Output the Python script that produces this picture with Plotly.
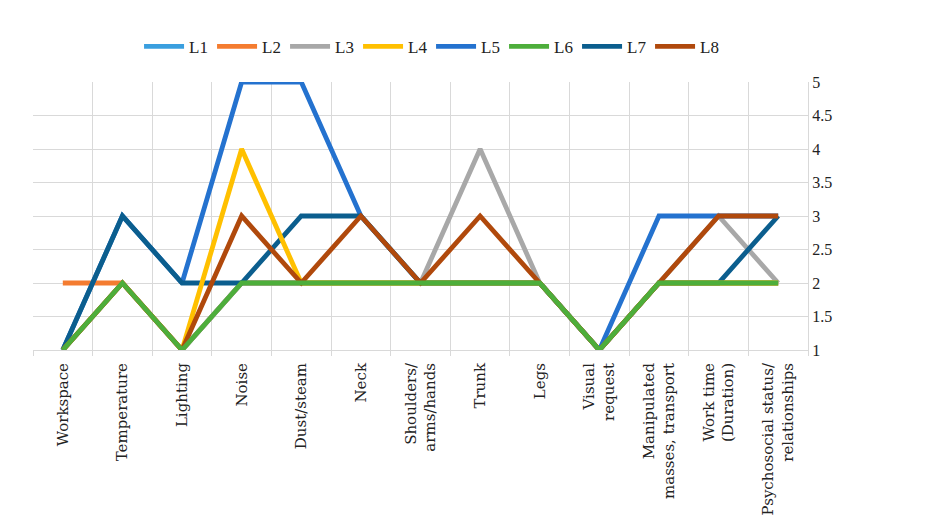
import plotly.graph_objects as go

categories = ["Workspace", "Temperature", "Lighting", "Noise", "Dust/steam", "Neck",
              "Shoulders/<br>arms/hands", "Trunk", "Legs", "Visual<br>request",
              "Manipulated<br>masses, transport", "Work time<br>(Duration)",
              "Psychosocial status/<br>relationships"]

L1 = [1, 2, 1, 2, 2, 2, 2, 2, 2, 1, 2, 2, 2]
L2 = [2, 2, 1, 2, 2, 2, 2, 2, 2, 1, 2, 2, 2]
L3 = [1, 2, 1, 2, 2, 2, 2, 4, 2, 1, 2, 3, 2]
L4 = [1, 2, 1, 4, 2, 2, 2, 2, 2, 1, 2, 2, 2]
L5 = [1, 3, 2, 5, 5, 3, 2, 2, 2, 1, 3, 3, 3]
L6 = [1, 2, 1, 2, 2, 2, 2, 2, 2, 1, 2, 2, 2]
L7 = [1, 3, 2, 2, 3, 3, 2, 2, 2, 1, 2, 2, 3]
L8 = [1, 2, 1, 3, 2, 3, 2, 3, 2, 1, 2, 3, 3]

y_ticks = [1, 1.5, 2, 2.5, 3, 3.5, 4, 4.5, 5]

series = {"L1": L1, "L2": L2, "L3": L3, "L4": L4, "L5": L5, "L6": L6, "L7": L7, "L8": L8}
colors = {"L1": "#3A9FDF", "L2": "#F47C30", "L3": "#A8A8A8", "L4": "#FFC000",
          "L5": "#2472CF", "L6": "#4DAE3B", "L7": "#0B5E8E", "L8": "#B0490C"}
rank = {"L1": 1, "L2": 2, "L3": 3, "L4": 4, "L5": 5, "L6": 6, "L7": 7, "L8": 8}
draw_order = ["L1", "L2", "L3", "L5", "L7", "L4", "L8", "L6"]

fig = go.Figure()
for name in draw_order:
    fig.add_trace(go.Scatter(
        x=categories, y=series[name], mode="lines", name=name,
        line=dict(color=colors[name], width=4.8), cliponaxis=False,
        legendrank=rank[name],
    ))

font_family = "'Liberation Serif', 'Times New Roman', serif"
x_font = "'DejaVu Serif', serif"
fig.update_layout(
    width=931, height=526,
    margin=dict(l=33, r=123, t=82, b=176, autoexpand=False),
    paper_bgcolor="white", plot_bgcolor="white",
    font=dict(family=font_family, size=16, color="#222222"),
    showlegend=True,
    legend=dict(orientation="h", x=0.463, xanchor="center", xref="container",
                y=0.911, yanchor="middle", yref="container",
                font=dict(size=17, family=font_family), itemwidth=40,
                entrywidth=18, traceorder="normal"),
)
fig.update_xaxes(
    type="category", categoryorder="array", categoryarray=categories,
    range=[-0.5, 12.5], tickson="boundaries", tickangle=-90,
    showgrid=True, gridcolor="#D9D9D9", gridwidth=1,
    showline=True, linecolor="#D9D9D9", linewidth=1,
    ticks="outside", ticklen=5, tickcolor="#D9D9D9",
    ticklabelstandoff=6, automargin=False,
    tickfont=dict(size=15, family=x_font, color="#222222"),
    zeroline=False,
)
fig.update_yaxes(
    range=[1, 5], side="right", tickvals=y_ticks,
    ticktext=[("%g" % v) for v in y_ticks],
    showgrid=True, gridcolor="#D9D9D9", gridwidth=1,
    showline=True, linecolor="#D9D9D9", linewidth=1,
    ticks="", zeroline=False, automargin=False,
    tickfont=dict(size=16, family=font_family, color="#222222"),
)

fig.write_html("out.html")
